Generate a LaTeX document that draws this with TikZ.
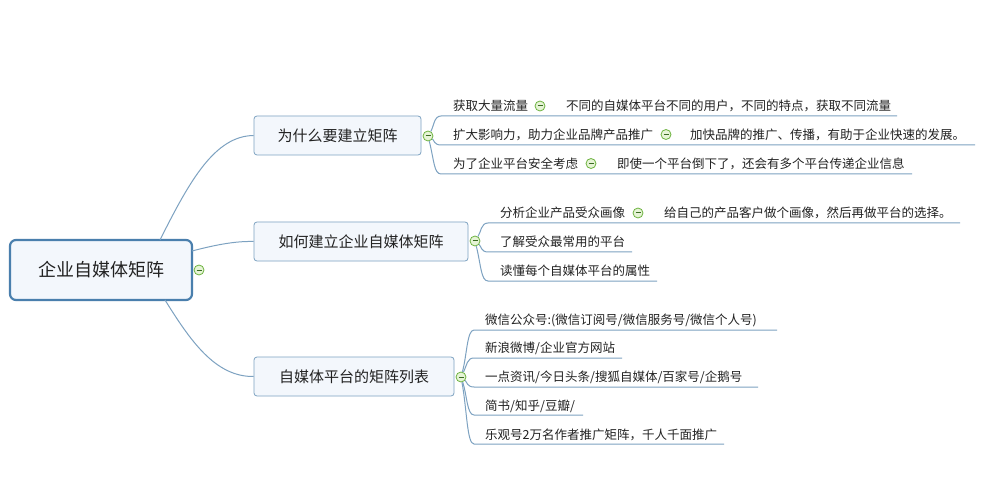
\documentclass[tikz,border=0pt]{standalone}
\usepackage{fontspec}
\setmainfont{Noto Sans CJK SC}
\definecolor{linec}{HTML}{7DA2C1}
\definecolor{boxc}{HTML}{7DA2C1}
\definecolor{boxf}{HTML}{F3F7FC}
\definecolor{txt}{HTML}{222222}
\definecolor{mgreen}{HTML}{6DB33F}
\definecolor{mfill}{HTML}{E6F4D6}
\definecolor{mdark}{HTML}{3A6B22}
\definecolor{rootc}{HTML}{4A7FAD}
\begin{document}
\begin{tikzpicture}[x=1pt,y=-1pt,
  conn/.style={draw=linec,line width=1pt},
  mainbox/.style={draw=boxc,fill=boxf,rounded corners=3pt,line width=0.8pt,minimum height=39pt,font=\fontsize{15}{18}\selectfont,text=txt},
  leaf/.style={anchor=west,inner sep=0pt,font=\fontsize{12.5}{14}\selectfont,text=txt},
  minus/.style={circle,draw=mgreen,fill=mfill,minimum size=10pt,inner sep=0pt,line width=0.8pt,
    path picture={\draw[mdark,line width=1pt] ([xshift=-2.5pt]path picture bounding box.center)--([xshift=2.5pt]path picture bounding box.center);}}]
\useasboundingbox (0,0) rectangle (989,500);
\fill[white] (0,0) rectangle (989,500);
% root
\node[draw=rootc,fill=boxf,rounded corners=6pt,line width=2.2pt,minimum width=182pt,minimum height=60pt,font=\fontsize{18}{22}\selectfont,text=txt] (root) at (101,270) {企业自媒体矩阵};
\node[minus] (m0) at (199,270) {};
% main nodes
\node[mainbox,minimum width=167pt] (b1) at (337.5,135.5) {为什么要建立矩阵};
\node[mainbox,minimum width=214pt] (b2) at (361,241.5) {如何建立企业自媒体矩阵};
\node[mainbox,minimum width=200pt] (b3) at (354,376.5) {自媒体平台的矩阵列表};
\coordinate (r1) at (160,240);
\coordinate (r2) at (192,251);
\coordinate (r3) at (165,300);
\draw[conn] (r1) .. controls (190,180) and (215,136) .. (b1.west);
\draw[conn] (r2) .. controls (215,245) and (235,241) .. (b2.west);
\draw[conn] (r3) .. controls (190,340) and (215,377) .. (b3.west);
\node[minus] (m1) at (428,136) {};
\node[minus] (m2) at (475,241) {};
\node[minus] (m3) at (461,377) {};
% group 1
\node[leaf] (a1) at (453,106) {获取大量流量};
\node[minus] (am1) at (540,106) {};
\node[leaf] (ac1) at (566,106) {不同的自媒体平台不同的用户，不同的特点，获取不同流量};
\node[leaf] (a2) at (453,134.5) {扩大影响力，助力企业品牌产品推广};
\node[minus] (am2) at (666,134.5) {};
\node[leaf] (ac2) at (690,134.5) {加快品牌的推广、传播，有助于企业快速的发展。};
\node[leaf] (a3) at (453,163.5) {为了企业平台安全考虑};
\node[minus] (am3) at (591,163.5) {};
\node[leaf] (ac3) at (617,163.5) {即使一个平台倒下了，还会有多个平台传递企业信息};
\coordinate (u1s) at (441,116); \coordinate (u1e) at (897,116);
\coordinate (u2s) at (441,145); \coordinate (u2e) at (975,145);
\coordinate (u3s) at (441,174); \coordinate (u3e) at (912,174);
\draw[conn] (m1) .. controls (434,126) and (434,116) .. (u1s) -- (u1e);
\draw[conn] (m1) .. controls (434,140) and (434,145) .. (u2s) -- (u2e);
\draw[conn] (m1) .. controls (434,160) and (434,174) .. (u3s) -- (u3e);
% group 2
\node[leaf] (c1) at (500,213) {分析企业产品受众画像};
\node[minus] (cm1) at (638,213) {};
\node[leaf] (cc1) at (664,213) {给自己的产品客户做个画像，然后再做平台的选择。};
\node[leaf] (c2) at (500,242) {了解受众最常用的平台};
\node[leaf] (c3) at (500,270.5) {读懂每个自媒体平台的属性};
\coordinate (v1s) at (488,223); \coordinate (v1e) at (960,223);
\coordinate (v2s) at (488,252); \coordinate (v2e) at (632,252);
\coordinate (v3s) at (488,281); \coordinate (v3e) at (657,281);
\draw[conn] (m2) .. controls (481,232) and (481,223) .. (v1s) -- (v1e);
\draw[conn] (m2) .. controls (481,246) and (481,252) .. (v2s) -- (v2e);
\draw[conn] (m2) .. controls (481,265) and (481,281) .. (v3s) -- (v3e);
% group 3
\node[leaf] (d1) at (485,320) {微信公众号:(微信订阅号/微信服务号/微信个人号)};
\node[leaf] (d2) at (485,348.5) {新浪微博/企业官方网站};
\node[leaf] (d3) at (485,377.5) {一点资讯/今日头条/搜狐自媒体/百家号/企鹅号};
\node[leaf] (d4) at (485,406) {简书/知乎/豆瓣/};
\node[leaf] (d5) at (485,435) {乐观号2万名作者推广矩阵，千人千面推广};
\coordinate (w1s) at (474,330); \coordinate (w1e) at (777,330);
\coordinate (w2s) at (474,358); \coordinate (w2e) at (622,358);
\coordinate (w3s) at (474,387); \coordinate (w3e) at (758,387);
\coordinate (w4s) at (474,415); \coordinate (w4e) at (583,415);
\coordinate (w5s) at (474,444); \coordinate (w5e) at (724,444);
\draw[conn] (m3) .. controls (467,355) and (467,330) .. (w1s) -- (w1e);
\draw[conn] (m3) .. controls (467,365) and (467,358) .. (w2s) -- (w2e);
\draw[conn] (m3) .. controls (467,382) and (467,387) .. (w3s) -- (w3e);
\draw[conn] (m3) .. controls (467,395) and (467,415) .. (w4s) -- (w4e);
\draw[conn] (m3) .. controls (467,410) and (467,444) .. (w5s) -- (w5e);
\end{tikzpicture}
\end{document}
